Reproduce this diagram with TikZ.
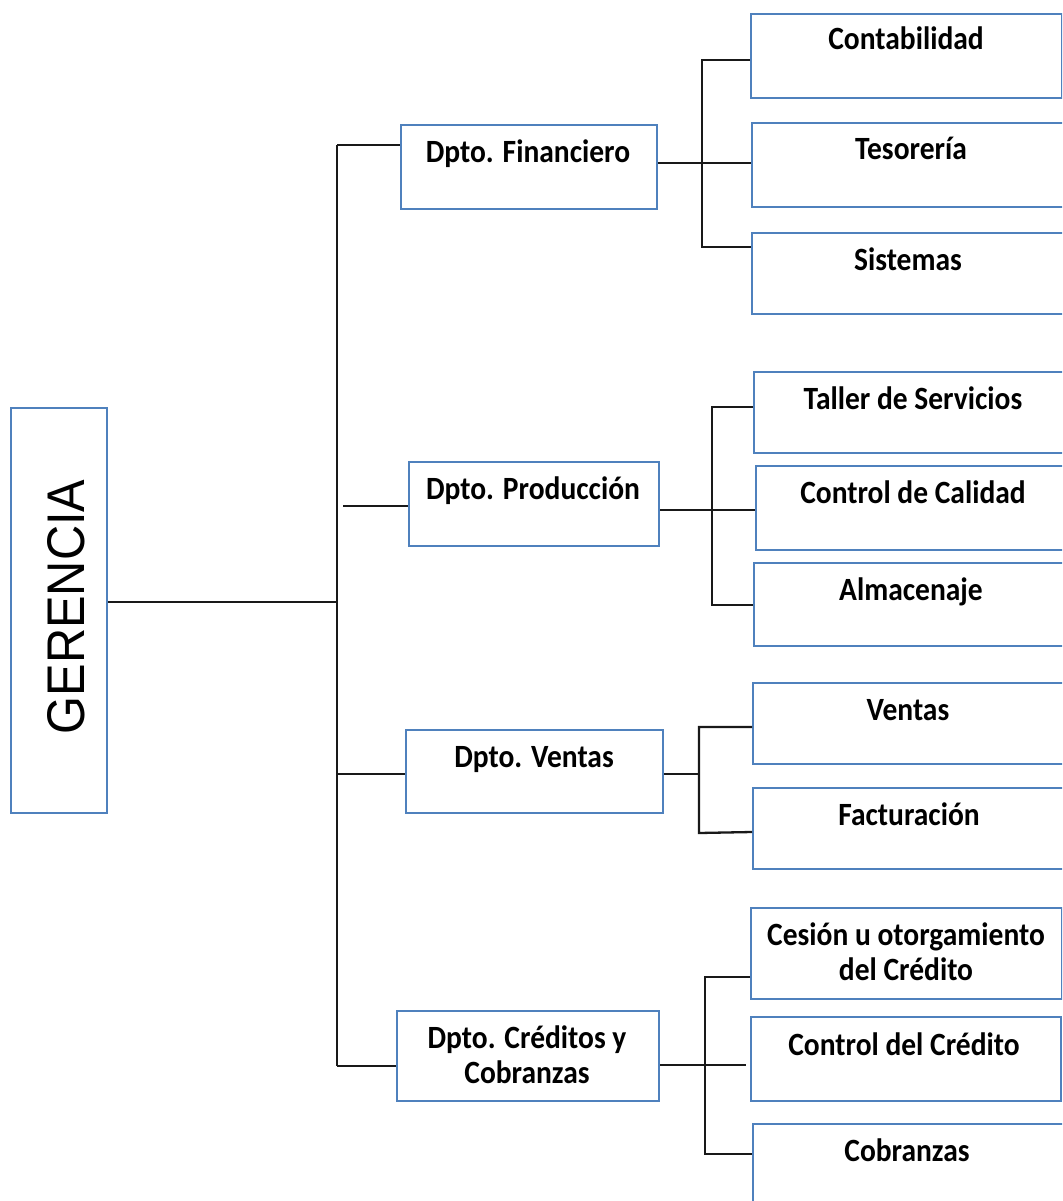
\documentclass[tikz,border=0pt]{standalone}
\usepackage{fontspec}
\setmainfont{Carlito}
\newfontfamily\gerfont{Liberation Sans}
\definecolor{boxblue}{HTML}{4F81BD}
\tikzset{
  orgbox/.style={draw=boxblue, line width=2.3pt, fill=white, inner sep=0pt},
  conn/.style={draw=black!90, line width=2.3pt},
  lbl/.style={font=\fontsize{29.5}{32.5}\selectfont\bfseries, inner sep=0pt, anchor=base},
}
% box: name, left, top, right, bottom (picture units, y grows downwards)
\newcommand\orgnode[5]{\node[orgbox, anchor=north west, minimum width=#4-#2, minimum height=#5-#3] (#1) at (#2,#3) {};}
% slightly tall label text, baseline on the first line
\newcommand\tall[1]{\scalebox{1}[1.1]{\begin{tabular}[t]{@{}c@{}}#1\end{tabular}}}
\begin{document}
\begin{tikzpicture}[x=1pt,y=-1pt]
\useasboundingbox (0,0) rectangle (1062,1201);
\clip (0,0) rectangle (1062,1201);

% boxes
\orgnode{ger}{10}{407}{106}{812}
\orgnode{fin}{400}{124}{656}{208}
\orgnode{prod}{408}{461}{658}{545}
\orgnode{ven}{405}{729}{662}{812}
\orgnode{cred}{396}{1010}{658}{1100}
\orgnode{conta}{750}{13}{1061}{97}
\orgnode{teso}{751}{122}{1072}{206}
\orgnode{sis}{751}{232}{1072}{313}
\orgnode{taller}{753}{371}{1072}{452}
\orgnode{calidad}{755}{465}{1072}{549}
\orgnode{alma}{753}{562}{1072}{645}
\orgnode{vtas}{752}{682}{1072}{763}
\orgnode{fact}{752}{787}{1072}{868}
\orgnode{cesion}{750}{907}{1061}{998}
\orgnode{ctrl}{750}{1016}{1060}{1100}
\orgnode{cobr}{752}{1123}{1072}{1215}

% labels
\node[rotate=90, inner sep=0pt] (ger-t) at (66,607) {\gerfont\fontsize{53}{60}\selectfont\scalebox{0.92}[1]{GERENCIA}};
\node[lbl] (fin-t) at (528,163) {\tall{Dpto. Financiero}};
\node[lbl] (prod-t) at (533,499) {\tall{Dpto. Producción}};
\node[lbl] (ven-t) at (534,767) {\tall{Dpto. Ventas}};
\node[lbl] (cred-t) at (527,1048) {\tall{Dpto. Créditos y\\Cobranzas}};
\node[lbl] (conta-t) at (906,50) {\tall{Contabilidad}};
\node[lbl] (teso-t) at (911,160) {\tall{Tesorería}};
\node[lbl] (sis-t) at (908,270) {\tall{Sistemas}};
\node[lbl] (taller-t) at (913,409) {\tall{Taller de Servicios}};
\node[lbl] (calidad-t) at (913,503) {\tall{Control de Calidad}};
\node[lbl] (alma-t) at (911,600) {\tall{Almacenaje}};
\node[lbl] (vtas-t) at (908,720) {\tall{Ventas}};
\node[lbl] (fact-t) at (909,825) {\tall{Facturación}};
\node[lbl] (cesion-t) at (906,945) {\tall{Cesión u otorgamiento\\del Crédito}};
\node[lbl] (ctrl-t) at (904,1055) {\tall{Control del Crédito}};
\node[lbl] (cobr-t) at (907,1161) {\tall{Cobranzas}};

% main trunk
\coordinate (trunk) at (337,602);
\draw[conn] (ger.east |- trunk) -- (trunk);
\draw[conn] (337,145) -- (337,1066);
\draw[conn] (337,145) -- (fin.west |- 0,145);
\draw[conn] (343,506) -- (prod.west |- 0,506);
\draw[conn] (337,774) -- (ven.west |- 0,774);
\draw[conn] (337,1066) -- (cred.west |- 0,1066);

% Dpto. Financiero
\draw[conn] (fin.east |- 0,163) -- (teso.west |- 0,163);
\draw[conn] (conta.west |- 0,60) -| (702,247) -- (sis.west |- 0,247);

% Dpto. Producción
\draw[conn] (prod.east |- 0,510) -- (calidad.west |- 0,510);
\draw[conn] (taller.west |- 0,407) -| (712,605) -- (alma.west |- 0,605);

% Dpto. Ventas
\coordinate (vjoin) at (699,774);
\draw[conn] (ven.east |- vjoin) -- (vjoin);
\draw[conn] (vtas.west |- 0,727) -| (699,833) -- (fact.west |- 0,832);

% Dpto. Créditos y Cobranzas
\coordinate (cend) at (746,1065);
\draw[conn] (cred.east |- cend) -- (cend);
\draw[conn] (cesion.west |- 0,977) -| (705,1154) -- (cobr.west |- 0,1154);
\end{tikzpicture}
\end{document}
